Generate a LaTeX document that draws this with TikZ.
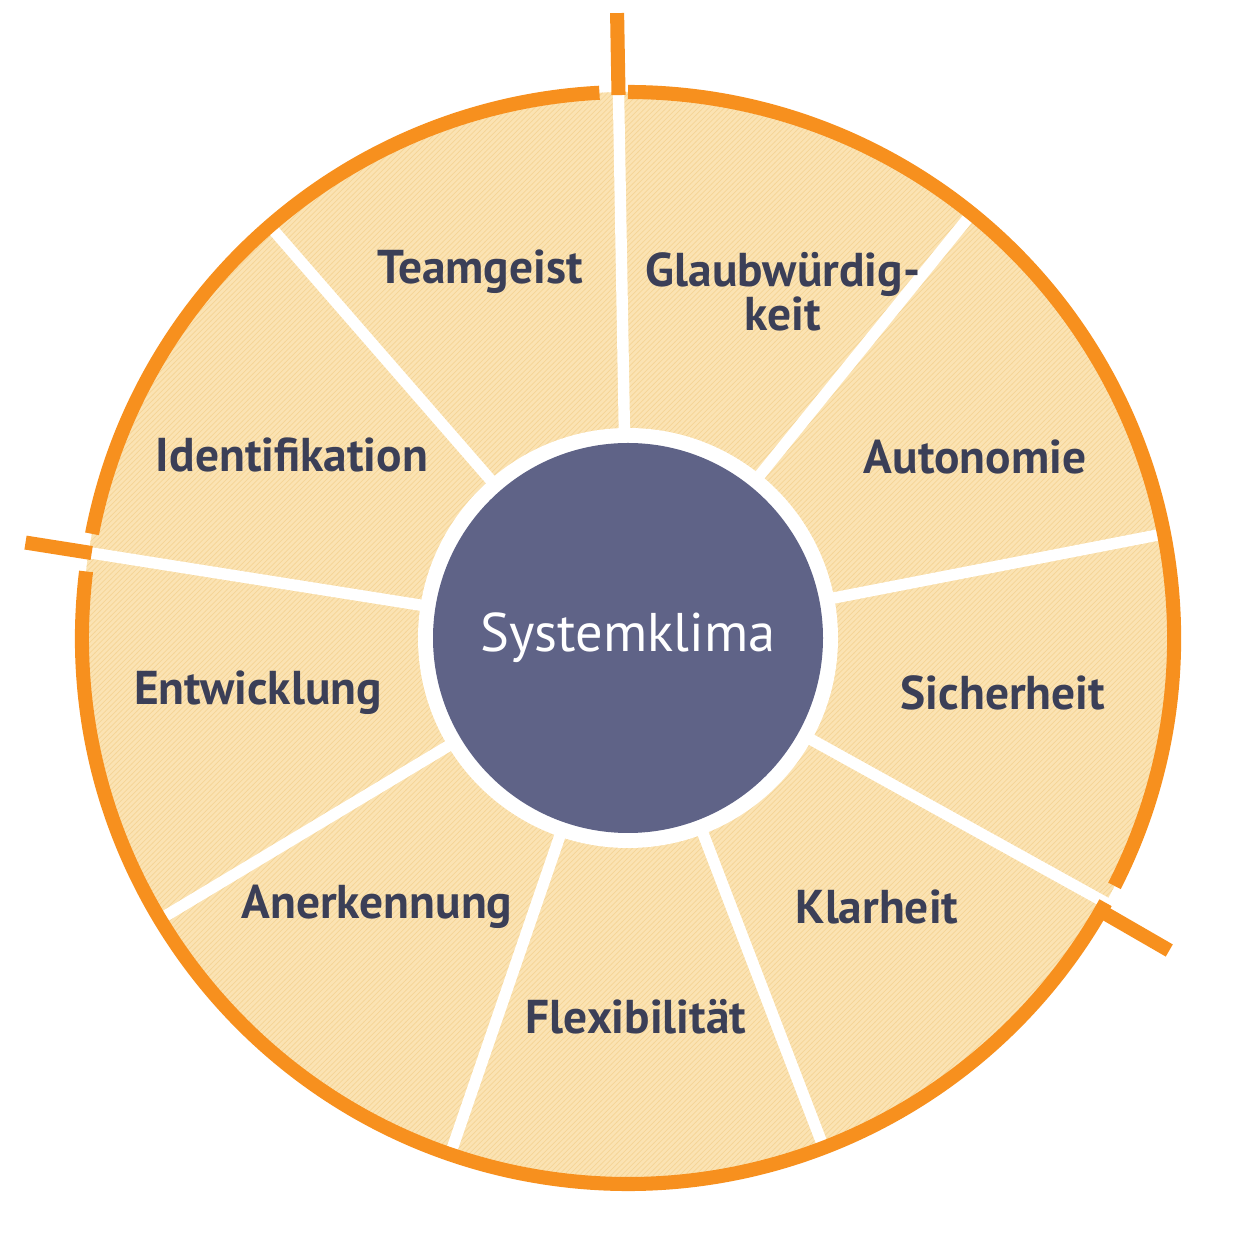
\documentclass[tikz,border=0pt]{standalone}
\usepackage{fontspec}
\setmainfont{PT Sans}
\usetikzlibrary{patterns,calc}
\definecolor{fillc}{HTML}{FBE3B3}
\definecolor{hatch}{HTML}{F5D496}
\definecolor{orng}{HTML}{F7901E}
\definecolor{core}{HTML}{5F6387}
\definecolor{txt}{HTML}{3B3F57}
\begin{document}
\begin{tikzpicture}[x=0.02cm,y=0.02cm,
  lab/.style={text=txt,font=\fontsize{27}{29}\selectfont\bfseries,align=center},
  div/.style={white,line width=6.5pt},
  ring/.style={orng,line width=8pt}]
\useasboundingbox (0,0) rectangle (1254,1254);
\coordinate (c) at (628,616);
\fill[fillc] (c) circle (546);
\fill[pattern=north east lines,pattern color=hatch] (c) circle (546);
\foreach \a in {91,51,11,-29,-69,-109,-149,171,131}
  \draw[div] ($(c)+(\a:200)$) -- ($(c)+(\a:552)$);
\fill[white] (c) circle (210);
\node[circle,fill=core,minimum size=390*0.02cm,inner sep=0,text=white,font=\fontsize{31}{33}\selectfont] (core) at (c) {Systemklima};
% ring arcs
\draw[ring] ($(c)+(93:546)$) arc (93:169:546);
\draw[ring] ($(c)+(173:546)$) arc (173:331:546);
\draw[ring] ($(c)+(-27:546)$) arc (-27:90:546);
\coordinate (t1a) at ($(c)+(91:543)$); \coordinate (t1b) at ($(c)+(91:625)$);
\coordinate (t2a) at ($(c)+(171:543)$); \coordinate (t2b) at ($(c)+(171:610)$);
\coordinate (t3a) at ($(c)+(-30:543)$); \coordinate (t3b) at ($(c)+(-30:625)$);
\draw[ring] (t1a) -- (t1b);
\draw[ring] (t2a) -- (t2b);
\draw[ring] (t3a) -- (t3b);
\node[lab] (l1) at (480,982) {Teamgeist};
\node[lab] (l2) at (783,962) {Glaubwürdig-\\[-4pt]keit};
\node[lab] (l3) at (975,797) {Autonomie};
\node[lab] (l4) at (1003,561) {Sicherheit};
\node[lab] (l5) at (877,347) {Klarheit};
\node[lab] (l6) at (636,237) {Flexibilität};
\node[lab] (l7) at (377,347) {Anerkennung};
\node[lab] (l8) at (258,561) {Entwicklung};
\node[lab] (l9) at (292,799) {Identifikation};
\end{tikzpicture}
\end{document}
